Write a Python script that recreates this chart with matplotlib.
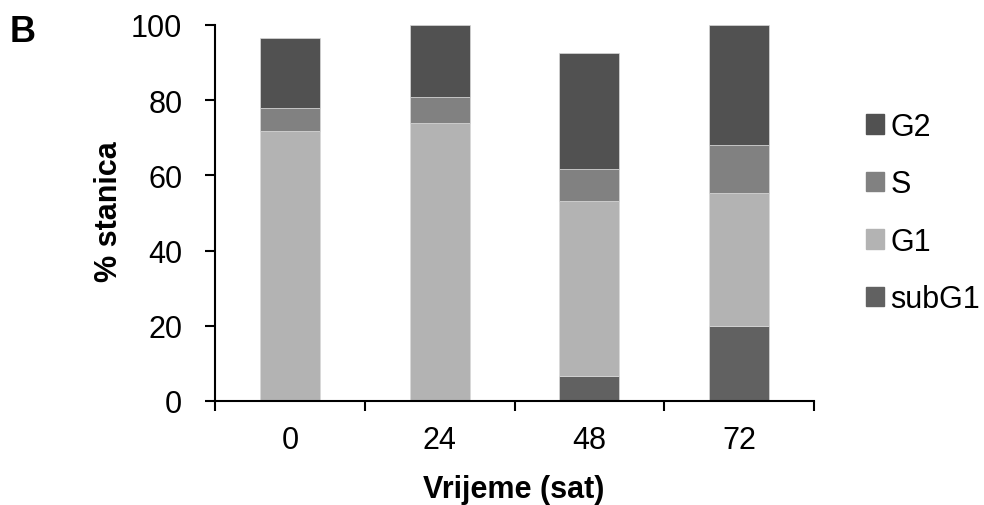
import matplotlib
matplotlib.use("Agg")
import matplotlib.pyplot as plt
import numpy as np
from matplotlib.patches import Patch

plt.rcParams['font.family'] = ['Liberation Sans', 'DejaVu Sans']

# data
times = ['0', '24', '48', '72']
subg1 = [0.0, 0.0, 6.6, 19.9]
g1 = [71.8, 73.9, 46.6, 35.4]
s_phase = [6.1, 7.0, 8.5, 12.8]
g2 = [18.7, 19.1, 30.8, 31.9]

series = [('subG1', subg1, '#616161'),
          ('G1', g1, '#b3b3b3'),
          ('S', s_phase, '#818181'),
          ('G2', g2, '#515151')]

fig = plt.figure(figsize=(9.84, 5.06), dpi=100)
ax = fig.add_axes([215 / 984, 1 - 402 / 506, 599 / 984, 376 / 506])

x = np.arange(len(times))
bottom = np.zeros(len(times))
for name, vals, col in series:
    ax.bar(x, vals, width=0.4, bottom=bottom, color=col, edgecolor='#d8d8d8',
           linewidth=0.5, label=name)
    bottom += np.array(vals)

ax.set_xlim(-0.5, 3.5)
ax.set_ylim(0, 100)
ax.set_yticks([0, 20, 40, 60, 80, 100])
ax.set_xticks(x)
ax.set_xticklabels(times)
ax.set_xticks(np.arange(-0.5, 4.0, 1.0), minor=True)
ax.tick_params(axis='x', which='major', length=0, pad=17, labelsize=22)
ax.tick_params(axis='x', which='minor', length=7.5, width=1.5, direction='out')
ax.tick_params(axis='y', length=7.5, width=1.5, direction='out', labelsize=22, pad=16)

for side in ['top', 'right']:
    ax.spines[side].set_visible(False)
for side in ['left', 'bottom']:
    ax.spines[side].set_linewidth(1.5)

# axis titles placed like the original
fig.text(124 / 984, 1 - 212 / 506, '% stanica', fontsize=22, fontweight='bold',
         rotation=90, ha='right', va='center')
fig.text(514 / 984, 1 - 498 / 506, 'Vrijeme (sat)', fontsize=22, fontweight='bold',
         ha='center', va='baseline')

fig.text(10 / 984, 1 - 42 / 506, 'B', fontsize=26, fontweight='bold', va='baseline')

handles = [Patch(color=col, label=name) for name, vals, col in reversed(series)]
fig.legend(handles=handles, loc='center left', bbox_to_anchor=(866 / 984, 1 - 214 / 506),
           frameon=False, fontsize=22, handlelength=0.6, handleheight=0.6,
           handletextpad=0.2, labelspacing=0.9, borderpad=0, borderaxespad=0)

fig.savefig('out.png', dpi=100)
